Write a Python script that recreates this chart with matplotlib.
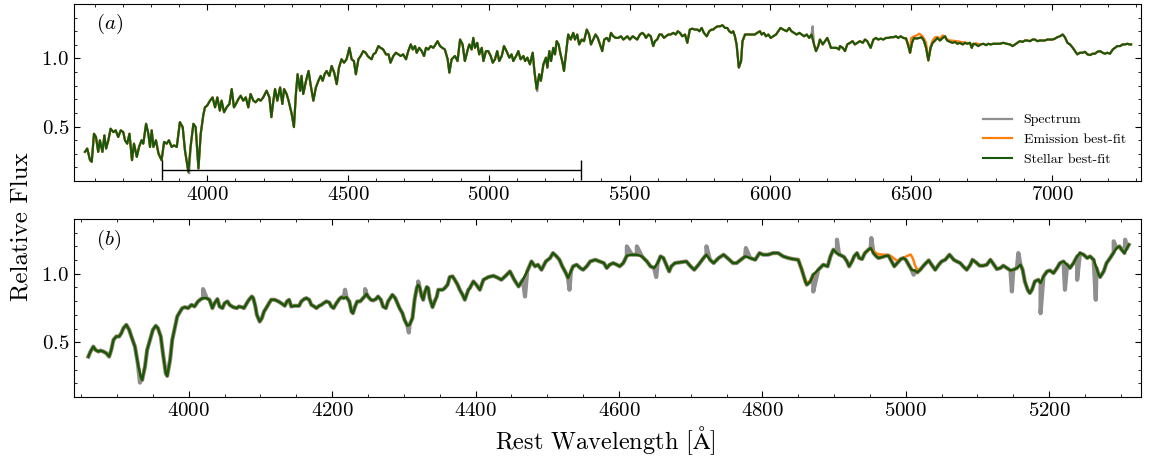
import numpy as np
import matplotlib
matplotlib.use('Agg')
import matplotlib.pyplot as plt
from matplotlib.ticker import MultipleLocator

plt.rcParams['font.family'] = 'serif'
plt.rcParams['font.serif'] = ['cmr10']
plt.rcParams['mathtext.fontset'] = 'cm'
plt.rcParams['axes.formatter.use_mathtext'] = True
plt.rcParams['axes.unicode_minus'] = False

# ---- panel (a): full spectrum, stellar best-fit ----
wave_a = [
    3566, 3574, 3584, 3590, 3598, 3605, 3613, 3619, 3628, 3635,
    3641, 3649, 3657, 3667, 3675, 3684, 3693, 3702, 3708, 3716,
    3724, 3733, 3740, 3750, 3758, 3767, 3773, 3783, 3791, 3797,
    3803, 3809, 3818, 3827, 3838, 3847, 3856, 3864, 3874, 3882,
    3892, 3903, 3913, 3921, 3933, 3941, 3951, 3959, 3969, 3977,
    3986, 3992, 4000, 4010, 4019, 4028, 4036, 4045, 4051, 4060,
    4069, 4079, 4087, 4095, 4102, 4111, 4119, 4128, 4137, 4146,
    4154, 4164, 4172, 4182, 4190, 4199, 4211, 4221, 4228, 4235,
    4241, 4249, 4259, 4267, 4273, 4282, 4289, 4300, 4308, 4315,
    4321, 4330, 4335, 4341, 4351, 4360, 4367, 4377, 4386, 4395,
    4403, 4410, 4417, 4424, 4434, 4442, 4451, 4460, 4468, 4477,
    4486, 4495, 4505, 4513, 4521, 4528, 4537, 4545, 4554, 4563,
    4570, 4576, 4584, 4590, 4598, 4608, 4616, 4625, 4635, 4644,
    4651, 4661, 4670, 4679, 4687, 4696, 4706, 4714, 4723, 4730,
    4738, 4744, 4753, 4762, 4770, 4777, 4785, 4794, 4803, 4811,
    4818, 4827, 4835, 4844, 4854, 4860, 4868, 4880, 4889, 4898,
    4907, 4915, 4927,
    4931, 4939, 4945, 4951, 4959, 4966, 4975, 4981, 4990, 4998,
    5007, 5014, 5022, 5030, 5037, 5046, 5054, 5063, 5073, 5081,
    5087, 5097, 5105, 5113, 5123, 5129, 5137, 5146, 5156, 5162,
    5170, 5179, 5185, 5194, 5203, 5208, 5215, 5221, 5229, 5235,
    5241, 5248, 5255, 5262, 5267, 5274, 5282, 5291, 5300, 5306,
    5314, 5321, 5330, 5338, 5348, 5356, 5363, 5371, 5379, 5387,
    5395, 5403, 5410, 5419, 5427, 5434, 5442, 5451, 5460, 5469,
    5478, 5485, 5492, 5501, 5511, 5519, 5527, 5537, 5545, 5552,
    5558, 5567, 5575, 5584, 5590, 5598, 5606, 5614, 5622, 5629,
    5638, 5646, 5655, 5664, 5671, 5679, 5687, 5697, 5705, 5714,
    5723, 5732, 5741, 5748, 5756, 5764, 5774, 5783, 5791, 5797,
    5803, 5812, 5821, 5830, 5839, 5847, 5854, 5862, 5868, 5874,
    5880, 5888, 5896, 5901, 5910, 5918, 5927, 5936, 5945, 5953,
    5963, 5969, 5977, 5984, 5993, 6001, 6010, 6020, 6028, 6036,
    6046, 6058, 6067, 6075, 6084, 6093, 6103, 6111, 6120, 6129,
    6138, 6146, 6155, 6162, 6170, 6176, 6186, 6194, 6202, 6209,
    6215, 6223, 6235, 6244,
    6247, 6257, 6265, 6273, 6283, 6292, 6300, 6309, 6318, 6328,
    6336, 6344, 6356, 6366, 6375, 6383, 6392, 6401, 6411, 6419,
    6427, 6437, 6446, 6454, 6463, 6472, 6482, 6490, 6496, 6503,
    6510, 6519, 6529, 6537, 6545, 6553, 6561, 6569, 6576, 6585,
    6593, 6602, 6612, 6620, 6628, 6638, 6647, 6656, 6664, 6673,
    6683, 6691, 6699, 6709, 6715, 6721, 6730, 6738, 6747, 6756,
    6766, 6774, 6782, 6792, 6804, 6815, 6827, 6839, 6851, 6860,
    6869, 6877, 6886, 6896, 6904, 6912, 6922, 6931, 6940, 6948,
    6957, 6967, 6975, 6983, 6993, 7002, 7011, 7019, 7028, 7038,
    7046, 7055, 7064, 7074, 7082, 7090, 7099, 7109, 7117, 7126,
    7135, 7145, 7153, 7161, 7171, 7180, 7188, 7197, 7206, 7216,
    7224, 7232, 7242, 7251, 7259, 7268, 7275, 7281,
]
stellar_a = [
    0.314, 0.338, 0.253, 0.241, 0.447, 0.423, 0.314, 0.399, 0.314, 0.435,
    0.338, 0.399, 0.484, 0.459, 0.472, 0.423, 0.472, 0.459, 0.399, 0.374,
    0.447, 0.253, 0.374, 0.277, 0.350, 0.399, 0.374, 0.520, 0.447, 0.350,
    0.472, 0.350, 0.399, 0.302, 0.253, 0.387, 0.374, 0.399, 0.350, 0.362,
    0.350, 0.532, 0.496, 0.326, 0.168, 0.350, 0.520, 0.496, 0.192, 0.447,
    0.581, 0.641, 0.654, 0.690, 0.714, 0.641, 0.714, 0.617, 0.690, 0.605,
    0.641, 0.666, 0.775, 0.641, 0.666, 0.702, 0.726, 0.690, 0.714, 0.641,
    0.739, 0.690, 0.678, 0.702, 0.690, 0.714, 0.763, 0.714, 0.569, 0.690,
    0.775, 0.690, 0.787, 0.666, 0.775, 0.739, 0.690, 0.593, 0.496, 0.739,
    0.884, 0.763, 0.872, 0.739, 0.836, 0.908, 0.811, 0.690, 0.787, 0.836,
    0.872, 0.836, 0.884, 0.908, 0.872, 0.945, 0.896, 0.811, 0.933, 0.994,
    0.969, 0.994, 1.078, 0.994, 0.981, 0.884, 0.994, 1.018, 1.054, 1.042,
    1.018, 1.006, 0.994, 1.030, 1.042, 1.091, 1.078, 1.066, 1.030, 1.030,
    0.969, 1.018, 1.042, 1.030, 1.018, 1.030, 0.994, 1.054, 1.103, 1.066,
    1.091, 1.042, 1.078, 1.054, 1.018, 1.078, 1.066, 1.091, 1.078, 1.103,
    1.127, 1.091, 1.078, 1.066, 0.994, 0.896, 0.994, 1.018, 0.981, 1.139,
    1.103, 0.981, 1.078,
    1.103, 1.066, 1.151, 1.078, 1.115, 1.030, 1.078, 0.981, 1.054, 1.054,
    1.018, 0.969, 0.994, 1.054, 0.981, 1.018, 1.091, 1.054, 1.006, 1.030,
    0.981, 1.018, 1.054, 0.994, 1.018, 0.981, 1.006, 0.957, 1.042, 0.908,
    0.775, 0.884, 0.836, 0.957, 1.006, 0.933, 1.054, 0.981, 1.078, 1.030,
    1.127, 1.103, 1.030, 0.969, 0.908, 1.030, 1.176, 1.139, 1.188, 1.139,
    1.176, 1.103, 1.139, 1.127, 1.212, 1.176, 1.103, 1.139, 1.176, 1.151,
    1.103, 1.054, 1.139, 1.151, 1.127, 1.188, 1.163, 1.151, 1.151, 1.163,
    1.139, 1.151, 1.163, 1.139, 1.163, 1.151, 1.139, 1.176, 1.188, 1.176,
    1.151, 1.176, 1.163, 1.091, 1.127, 1.139, 1.176, 1.176, 1.151, 1.163,
    1.176, 1.176, 1.188, 1.176, 1.200, 1.188, 1.163, 1.176, 1.115, 1.212,
    1.219, 1.212, 1.212, 1.200, 1.224, 1.188, 1.163, 1.200, 1.212, 1.212,
    1.224, 1.236, 1.236, 1.244, 1.224, 1.224, 1.200, 1.188, 1.200, 1.163,
    1.103, 0.933, 0.981, 1.127, 1.176, 1.176, 1.176, 1.176, 1.176, 1.188,
    1.200, 1.176, 1.188, 1.163, 1.176, 1.151, 1.163, 1.176, 1.200, 1.224,
    1.212, 1.200, 1.224, 1.200, 1.188, 1.176, 1.188, 1.176, 1.163, 1.176,
    1.151, 1.176, 1.103, 1.054, 1.091, 1.139, 1.103, 1.127, 1.151, 1.115,
    1.078, 1.078, 1.078, 1.066,
    1.091, 1.078, 1.054, 1.103, 1.115, 1.127, 1.103, 1.115, 1.127, 1.115,
    1.139, 1.127, 1.078, 1.139, 1.151, 1.139, 1.146, 1.139, 1.151, 1.151,
    1.156, 1.156, 1.163, 1.151, 1.163, 1.151, 1.146, 1.091, 1.042, 1.115,
    1.151, 1.146, 1.151, 1.156, 1.132, 1.078, 0.986, 1.078, 1.115, 1.132,
    1.151, 1.132, 1.151, 1.163, 1.132, 1.122, 1.115, 1.122, 1.108, 1.115,
    1.103, 1.115, 1.108, 1.115, 1.078, 1.108, 1.103, 1.091, 1.103, 1.108,
    1.098, 1.108, 1.103, 1.108, 1.108, 1.108, 1.115, 1.108, 1.103, 1.091,
    1.103, 1.115, 1.127, 1.122, 1.132, 1.132, 1.127, 1.139, 1.139, 1.127,
    1.132, 1.132, 1.132, 1.139, 1.139, 1.139, 1.146, 1.156, 1.163, 1.176,
    1.156, 1.115, 1.103, 1.078, 1.054, 1.030, 1.042, 1.042, 1.049, 1.030,
    1.025, 1.035, 1.035, 1.049, 1.054, 1.042, 1.035, 1.042, 1.035, 1.066,
    1.078, 1.091, 1.091, 1.103, 1.103, 1.108, 1.103, 1.103,
]
# observed-spectrum points that stick out from the fit in panel (a)
spike_a_wave = [3936, 5172, 6150]
spike_a_flux = [0.156, 0.760, 1.236]
# emission best-fit where it departs from the stellar fit (Halpha, [NII], [SII])
emis_a_wave = [6482, 6490, 6496, 6500, 6510, 6520, 6529, 6537, 6545, 6553,
               6561, 6569, 6576, 6585, 6593, 6602, 6612, 6620, 6628, 6638,
               6650, 6664, 6680, 6699, 6715, 6730, 6745]
emis_a_flux = [1.146, 1.100, 1.042, 1.150, 1.163, 1.170, 1.182, 1.170, 1.150, 1.115,
               0.986, 1.090, 1.132, 1.156, 1.158, 1.146, 1.170, 1.156, 1.139, 1.132,
               1.130, 1.127, 1.120, 1.115, 1.100, 1.112, 1.103]

# ---- panel (b): zoom on the blue part ----
wave_b = [
    3860, 3863, 3867, 3870, 3874, 3877, 3881, 3885, 3889, 3892,
    3895, 3899, 3903, 3906, 3909, 3913, 3917, 3920, 3925, 3929,
    3933, 3935, 3939, 3942, 3946, 3950, 3954, 3957, 3961, 3964,
    3968, 3970, 3974, 3977, 3981, 3984, 3988, 3991, 3995, 3999,
    4004, 4008, 4013, 4017, 4020, 4025, 4029, 4033, 4036, 4040,
    4043, 4047, 4050, 4054, 4057, 4062, 4067, 4070, 4074, 4077,
    4081, 4084, 4088, 4090, 4093, 4095, 4099, 4102, 4105, 4108,
    4112, 4115, 4120, 4125, 4129, 4134, 4137, 4140, 4143, 4147,
    4150, 4154, 4157, 4161, 4164, 4168, 4171, 4175, 4178, 4182,
    4185, 4188, 4192, 4196, 4199, 4202, 4206, 4210, 4213, 4216,
    4220, 4224, 4227, 4229, 4232, 4235, 4239, 4242, 4246, 4248,
    4250, 4254, 4257, 4261, 4264, 4268, 4271, 4275, 4278, 4281,
    4284, 4288, 4291, 4294, 4298, 4301, 4305, 4308, 4312, 4315,
    4318, 4320, 4322, 4325, 4327, 4329, 4332, 4334, 4336, 4340,
    4343, 4346, 4348, 4351, 4354, 4357, 4361, 4364, 4368, 4371,
    4375, 4378, 4382, 4385, 4390,
    4392, 4397, 4401, 4406, 4411, 4418, 4425, 4432, 4436, 4441,
    4448, 4454, 4460, 4466, 4472, 4478, 4483, 4487, 4492, 4498,
    4504, 4508, 4513, 4517, 4521, 4526, 4529, 4533, 4536, 4541,
    4546, 4550, 4555, 4560, 4567, 4573, 4579, 4583, 4587, 4592,
    4597, 4601, 4606, 4611, 4618, 4625, 4632, 4639, 4644, 4649,
    4654, 4658, 4662, 4667, 4670, 4673, 4678, 4685, 4694, 4700,
    4705, 4711, 4718, 4722, 4727, 4732, 4739, 4746, 4753, 4759,
    4764, 4770, 4776, 4783, 4790, 4796, 4801, 4808, 4815, 4822,
    4829, 4836, 4843, 4850, 4855, 4860, 4862, 4867, 4871, 4878,
    4885, 4891, 4895, 4899, 4904, 4907,
    4908, 4914, 4918, 4921, 4925, 4928, 4932, 4935, 4939, 4943,
    4948, 4951, 4955, 4959, 4962, 4967, 4973, 4976, 4979, 4984,
    4988, 4993, 4997, 5000, 5004, 5008, 5013, 5016, 5020, 5026,
    5032, 5036, 5041, 5046, 5050, 5055, 5061, 5067, 5071, 5076,
    5080, 5085, 5090, 5093, 5098, 5103, 5108, 5113, 5118, 5122,
    5127, 5132, 5136, 5141, 5146, 5150, 5155, 5160, 5163, 5166,
    5170, 5173, 5176, 5180, 5185, 5188, 5192, 5197, 5201, 5206,
    5211, 5215, 5220, 5225, 5229, 5234, 5239, 5243, 5248, 5253,
    5257, 5262, 5266, 5269, 5271, 5276, 5280, 5285, 5290, 5294,
    5298, 5301, 5305, 5308, 5311,
]
stellar_b = [
    0.395, 0.432, 0.468, 0.444, 0.432, 0.439, 0.432, 0.420, 0.395, 0.444,
    0.517, 0.542, 0.542, 0.566, 0.603, 0.627, 0.590, 0.542, 0.468, 0.346,
    0.249, 0.224, 0.322, 0.444, 0.517, 0.590, 0.620, 0.603, 0.542, 0.420,
    0.273, 0.254, 0.371, 0.517, 0.615, 0.688, 0.724, 0.749, 0.756, 0.749,
    0.773, 0.761, 0.798, 0.815, 0.822, 0.822, 0.810, 0.749, 0.785, 0.815,
    0.761, 0.749, 0.785, 0.798, 0.773, 0.756, 0.749, 0.761, 0.756, 0.749,
    0.785, 0.810, 0.834, 0.822, 0.761, 0.700, 0.651, 0.676, 0.724, 0.749,
    0.785, 0.810, 0.810, 0.798, 0.785, 0.766, 0.798, 0.810, 0.761, 0.766,
    0.766, 0.766, 0.798, 0.815, 0.822, 0.810, 0.773, 0.761, 0.749, 0.766,
    0.773, 0.785, 0.798, 0.790, 0.761, 0.749, 0.785, 0.815, 0.829, 0.822,
    0.829, 0.798, 0.724, 0.712, 0.761, 0.798, 0.798, 0.815, 0.839, 0.854,
    0.834, 0.810, 0.805, 0.815, 0.834, 0.810, 0.761, 0.749, 0.798, 0.822,
    0.846, 0.822, 0.785, 0.749, 0.712, 0.663, 0.620, 0.627, 0.676, 0.810,
    0.895, 0.920, 0.903, 0.834, 0.810, 0.859, 0.903, 0.895, 0.822, 0.756,
    0.798, 0.834, 0.883, 0.883, 0.883, 0.895, 0.920, 0.976, 0.981, 0.956,
    0.920, 0.883, 0.846, 0.810, 0.883,
    0.895, 0.944, 0.920, 0.883, 0.956, 0.976, 0.985, 0.968, 0.956, 0.980,
    1.017, 0.956, 0.907, 0.956, 1.017, 1.090, 1.054, 1.066, 1.029, 1.090,
    1.115, 1.151, 1.127, 1.102, 1.054, 1.005, 0.968, 1.017, 1.054, 1.066,
    1.042, 1.029, 1.054, 1.090, 1.102, 1.090, 1.078, 1.042, 1.066, 1.078,
    1.066, 1.054, 1.078, 1.132, 1.139, 1.139, 1.127, 1.090, 1.054, 1.042,
    1.078, 1.127, 1.115, 1.054, 1.017, 1.054, 1.078, 1.083, 1.090, 1.054,
    1.029, 1.066, 1.115, 1.139, 1.102, 1.078, 1.115, 1.139, 1.107, 1.078,
    1.078, 1.102, 1.127, 1.115, 1.102, 1.151, 1.139, 1.139, 1.151, 1.151,
    1.127, 1.115, 1.107, 1.102, 1.029, 0.944, 0.920, 0.944, 0.993, 1.029,
    1.066, 1.054, 1.127, 1.176, 1.151, 1.139,
    1.139, 1.122, 1.090, 1.054, 1.090, 1.127, 1.151, 1.115, 1.107, 1.151,
    1.176, 1.188, 1.151, 1.127, 1.115, 1.122, 1.132, 1.132, 1.102, 1.054,
    1.078, 1.107, 1.115, 1.102, 1.066, 1.029, 1.022, 1.010, 1.029, 1.066,
    1.098, 1.066, 1.029, 1.066, 1.090, 1.102, 1.139, 1.102, 1.090, 1.078,
    1.054, 1.029, 1.066, 1.102, 1.083, 1.059, 1.059, 1.066, 1.102, 1.073,
    1.034, 1.042, 1.059, 1.042, 1.024, 1.029, 1.042, 1.066, 1.029, 0.944,
    0.883, 0.859, 0.883, 0.944, 0.956, 0.932, 0.980, 1.017, 1.024, 1.005,
    1.042, 1.078, 1.090, 1.066, 1.042, 1.078, 1.127, 1.151, 1.139, 1.115,
    1.127, 1.102, 1.042, 0.993, 0.976, 1.017, 1.078, 1.115, 1.156, 1.188,
    1.200, 1.176, 1.151, 1.181, 1.212,
]
spike_b_wave = [3932, 4020, 4218, 4246, 4307, 4320, 4469, 4531, 4611, 4625,
                4652, 4722, 4777, 4871, 4904, 4952, 5011, 5148, 5157, 5188,
                5222, 5239, 5265, 5290, 5306]
spike_b_flux = [0.205, 0.888, 0.883, 0.888, 0.571, 0.944, 0.834, 0.883, 1.200, 1.200,
                0.976, 1.200, 1.188, 0.870, 1.249, 1.261, 0.993, 0.871, 1.151, 0.712,
                0.883, 0.956, 0.810, 1.237, 1.249]
emis_b_hb_wave = [4850, 4855, 4858, 4861, 4864, 4868, 4872]
emis_b_hb_flux = [1.102, 1.040, 0.975, 0.945, 0.935, 0.955, 0.993]
emis_b_o3_wave = [4943, 4948, 4951, 4955, 4959, 4962, 4967, 4973, 4976, 4979,
                  4984, 4988, 4993, 4997, 5000, 5004, 5007, 5010, 5013, 5016, 5020]
emis_b_o3_flux = [1.151, 1.176, 1.188, 1.165, 1.150, 1.142, 1.140, 1.138, 1.135, 1.130,
                  1.110, 1.095, 1.107, 1.115, 1.125, 1.135, 1.140, 1.110, 1.060, 1.030, 1.029]

# wavelength window shown in panel (b), marked in panel (a)
zoom_lo, zoom_hi = 3840, 5328
bar_level = 0.18

c_spec = '#8f8f8f'
c_emis = '#ff7f0e'
c_star = '#17580f'


def merge(w1, f1, w2, f2):
    w = np.concatenate([w1, w2])
    f = np.concatenate([f1, f2])
    idx = np.argsort(w, kind='stable')
    return w[idx], f[idx]


def style_axis(ax, major, minor):
    ax.xaxis.set_major_locator(MultipleLocator(major))
    ax.xaxis.set_minor_locator(MultipleLocator(minor))
    ax.yaxis.set_major_locator(MultipleLocator(0.5))
    ax.yaxis.set_minor_locator(MultipleLocator(0.1))
    ax.tick_params(which='both', direction='in', top=True, right=True, labelsize=15)
    ax.tick_params(which='major', length=4, width=0.8)
    ax.tick_params(which='minor', length=2.2, width=0.6)
    ax.set_ylim(0.1, 1.4)


fig = plt.figure(figsize=(11.49, 4.61), dpi=100)
ax_a = fig.add_axes([0.0644, 0.6074, 0.9286, 0.3839])
ax_b = fig.add_axes([0.0644, 0.1388, 0.9286, 0.3862])

spec_aw, spec_af = merge(wave_a, stellar_a, spike_a_wave, spike_a_flux)
ax_a.plot(spec_aw, spec_af, color=c_spec, lw=1.6, label='Spectrum')
ax_a.plot(wave_a, stellar_a, color=c_emis, lw=1.6, label='Emission best-fit')
ax_a.plot(emis_a_wave, emis_a_flux, color=c_emis, lw=1.6)
ax_a.plot(wave_a, stellar_a, color=c_star, lw=1.5, label='Stellar best-fit')
ax_a.errorbar((zoom_lo + zoom_hi) / 2, bar_level, xerr=(zoom_hi - zoom_lo) / 2,
              color='k', lw=1.0, capsize=7, capthick=1.0)
ax_a.set_xlim(3527, 7316)
style_axis(ax_a, 500, 100)
ax_a.text(0.021, 0.885, r'$(a)$', transform=ax_a.transAxes, fontsize=15,
          ha='left', va='center')
ax_a.legend(loc='lower right', frameon=False, fontsize=10, handlelength=2.1,
            handletextpad=0.8, borderaxespad=0.7, labelspacing=0.5)

spec_bw, spec_bf = merge(wave_b, stellar_b, spike_b_wave, spike_b_flux)
ax_b.plot(spec_bw, spec_bf, color=c_spec, lw=3.0)
ax_b.plot(wave_b, stellar_b, color=c_emis, lw=1.8)
ax_b.plot(emis_b_hb_wave, emis_b_hb_flux, color=c_emis, lw=1.8)
ax_b.plot(emis_b_o3_wave, emis_b_o3_flux, color=c_emis, lw=1.8)
ax_b.plot(wave_b, stellar_b, color=c_star, lw=1.8)
ax_b.set_xlim(zoom_lo, zoom_hi)
style_axis(ax_b, 200, 50)
ax_b.text(0.021, 0.885, r'$(b)$', transform=ax_b.transAxes, fontsize=15,
          ha='left', va='center')

fig.text(0.019, 0.508, 'Relative Flux', rotation=90, fontsize=18,
         ha='center', va='center')
fig.text(0.527, 0.045, r'Rest Wavelength [$\mathrm{\AA}$]', fontsize=17.5,
         ha='center', va='center')

fig.savefig('out.png', dpi=100)
